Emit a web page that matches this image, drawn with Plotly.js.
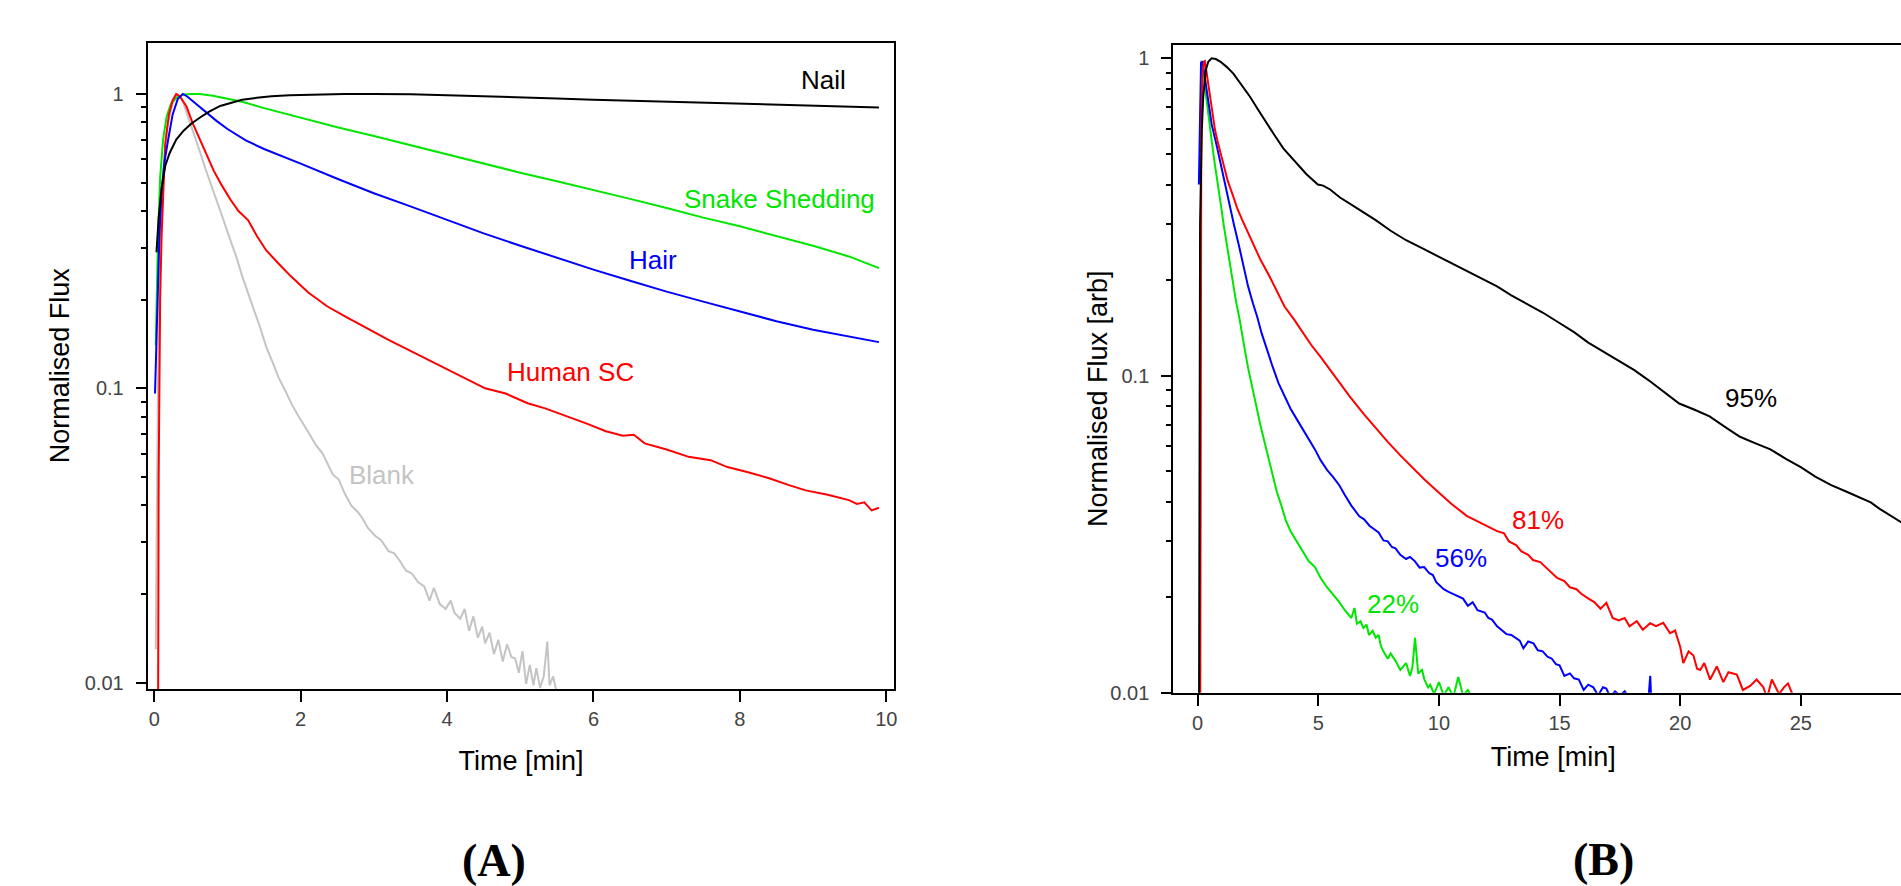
<!DOCTYPE html>
<html>
<head>
<meta charset="utf-8">
<script src="https://cdn.plot.ly/plotly-3.0.1.min.js"></script>
<style>
  html, body { margin: 0; padding: 0; background: #fff; }
  #wrap { width: 1901px; height: 886px; overflow: hidden; position: relative; }
  #chart { width: 1940px; height: 886px; }
</style>
</head>
<body>
<div id="wrap"><div id="chart"></div></div>
<script>
// ---------- Panel A data (Time [min], Normalised Flux) ----------
const nailT = [0.03, 0.06, 0.1, 0.15, 0.21, 0.3, 0.4, 0.5, 0.62, 0.75, 0.9, 1.05, 1.2, 1.4, 1.6, 1.85, 2.2, 2.6, 3.0, 3.5, 4.0, 4.5, 5.0, 5.5, 6.0, 6.5, 7.0, 7.5, 8.0, 8.5, 9.0, 9.5, 9.9];
const nailY = [0.29, 0.38, 0.48, 0.57, 0.63, 0.70, 0.75, 0.79, 0.83, 0.87, 0.91, 0.935, 0.955, 0.97, 0.982, 0.99, 0.996, 1.0, 1.0, 0.998, 0.99, 0.983, 0.975, 0.965, 0.955, 0.948, 0.94, 0.932, 0.925, 0.918, 0.912, 0.905, 0.90];

const snakeT = [0.02, 0.05, 0.08, 0.12, 0.17, 0.23, 0.3, 0.4, 0.5, 0.62, 0.8, 1.0, 1.2, 1.5, 2.0, 2.5, 3.0, 3.5, 4.0, 4.5, 5.0, 5.5, 6.0, 6.5, 7.0, 7.5, 8.0, 8.5, 9.0, 9.5, 9.9];
const snakeY = [0.14, 0.32, 0.52, 0.70, 0.84, 0.93, 0.97, 0.995, 1.0, 1.0, 0.985, 0.96, 0.94, 0.895, 0.83, 0.77, 0.72, 0.67, 0.62, 0.58, 0.54, 0.505, 0.47, 0.44, 0.41, 0.38, 0.355, 0.33, 0.305, 0.28, 0.256];

const hairT = [0.01, 0.04, 0.07, 0.1, 0.14, 0.19, 0.25, 0.32, 0.39, 0.45, 0.55, 0.65, 0.75, 0.85, 1.0, 1.25, 1.5, 1.75, 2.0, 2.5, 3.0, 3.5, 4.0, 4.5, 5.0, 5.5, 6.0, 6.5, 7.0, 7.5, 8.0, 8.5, 9.0, 9.5, 9.9];
const hairY = [0.096, 0.2, 0.33, 0.47, 0.59, 0.70, 0.85, 0.96, 1.0, 0.98, 0.935, 0.89, 0.848, 0.81, 0.76, 0.695, 0.65, 0.615, 0.58, 0.515, 0.46, 0.415, 0.374, 0.336, 0.305, 0.277, 0.253, 0.232, 0.213, 0.197, 0.182, 0.169, 0.158, 0.150, 0.1435];

const humanT = [0.05, 0.06, 0.08, 0.1, 0.15, 0.2, 0.25, 0.3, 0.35, 0.44, 0.52, 0.62, 0.7, 0.81, 0.92, 1.04, 1.15, 1.28, 1.4, 1.53, 1.7, 1.86, 2.1, 2.36, 2.6, 2.86, 3.2, 3.5, 3.69, 4.0, 4.3, 4.52, 4.8, 5.1, 5.34, 5.6, 5.9, 6.17, 6.4, 6.55, 6.7, 7.0, 7.3, 7.6, 7.83, 8.1, 8.4, 8.66, 8.9, 9.2, 9.49, 9.6, 9.7, 9.8, 9.9];
const humanY = [0.005, 0.05, 0.2, 0.33, 0.68, 0.85, 0.95, 1.0, 0.98, 0.906, 0.8, 0.70, 0.63, 0.55, 0.49, 0.438, 0.40, 0.373, 0.33, 0.294, 0.265, 0.241, 0.212, 0.19, 0.176, 0.162, 0.146, 0.134, 0.127, 0.116, 0.107, 0.1, 0.096, 0.089, 0.0855, 0.081, 0.076, 0.0715, 0.069, 0.0695, 0.065, 0.062, 0.0585, 0.057, 0.054, 0.052, 0.0495, 0.047, 0.045, 0.0435, 0.0417, 0.0405, 0.041, 0.0385, 0.0393];

const blankT = [0.02, 0.05, 0.08, 0.12, 0.18, 0.25, 0.32, 0.38, 0.45, 0.54, 0.62, 0.70, 0.78, 0.87, 0.95, 1.04, 1.12, 1.2, 1.28, 1.37, 1.45, 1.53, 1.62, 1.70, 1.8, 1.88, 1.95, 2.05, 2.12, 2.2, 2.3, 2.36, 2.44, 2.52, 2.6, 2.69, 2.78, 2.85, 2.92, 3.02, 3.1, 3.2, 3.28, 3.36, 3.44, 3.52, 3.6, 3.69, 3.76, 3.82, 3.9, 3.98, 4.05, 4.1, 4.18, 4.24, 4.3, 4.36, 4.42, 4.48, 4.52, 4.58, 4.64, 4.7, 4.76, 4.82, 4.88, 4.93, 4.98, 5.03, 5.08, 5.13, 5.18, 5.22, 5.27, 5.32, 5.37, 5.4, 5.45, 5.5];
const blankY = [0.013, 0.1, 0.3, 0.55, 0.78, 0.93, 0.99, 0.96, 0.85, 0.735, 0.64, 0.556, 0.49, 0.421, 0.37, 0.318, 0.28, 0.241, 0.21, 0.182, 0.16, 0.138, 0.122, 0.1085, 0.097, 0.088, 0.082, 0.075, 0.07, 0.0646, 0.06, 0.056, 0.0509, 0.049, 0.044, 0.04, 0.038, 0.036, 0.0335, 0.0315, 0.0305, 0.028, 0.0275, 0.0258, 0.024, 0.0235, 0.022, 0.0212, 0.019, 0.021, 0.0185, 0.0178, 0.019, 0.0173, 0.0165, 0.0178, 0.015, 0.0168, 0.0142, 0.0155, 0.0136, 0.0148, 0.0125, 0.014, 0.0118, 0.0135, 0.0122, 0.0121, 0.0108, 0.0128, 0.0099, 0.0115, 0.0098, 0.0112, 0.0096, 0.0105, 0.0138, 0.0098, 0.0105, 0.0092];

// ---------- Panel B data ----------
const p95T = [0.05, 0.1, 0.17, 0.23, 0.34, 0.44, 0.58, 0.75, 0.95, 1.2, 1.48, 1.8, 2.17, 2.5, 2.86, 3.2, 3.55, 3.9, 4.1, 4.5, 4.98, 5.2, 5.49, 5.9, 6.37, 6.9, 7.38, 8.0, 8.64, 9.3, 9.89, 10.5, 11.15, 11.8, 12.41, 13.0, 13.67, 14.3, 14.93, 15.6, 16.19, 16.8, 17.45, 18.1, 18.71, 19.3, 19.96, 20.6, 21.22, 21.9, 22.48, 23.1, 23.74, 24.4, 25.0, 25.6, 26.26, 26.9, 27.49, 27.9, 28.27, 28.7, 29.03, 29.5, 30.0, 30.5];
const p95Y = [0.005, 0.3, 0.59, 0.757, 0.92, 0.976, 1.0, 0.995, 0.975, 0.94, 0.895, 0.83, 0.757, 0.69, 0.624, 0.57, 0.52, 0.485, 0.465, 0.432, 0.40, 0.397, 0.386, 0.364, 0.346, 0.326, 0.309, 0.286, 0.267, 0.252, 0.239, 0.226, 0.2136, 0.202, 0.191, 0.179, 0.168, 0.158, 0.1475, 0.137, 0.127, 0.119, 0.1117, 0.104, 0.0964, 0.089, 0.0816, 0.078, 0.0743, 0.0685, 0.0641, 0.0612, 0.0585, 0.0545, 0.0514, 0.048, 0.0451, 0.043, 0.0411, 0.0398, 0.038, 0.0362, 0.0348, 0.0332, 0.0316, 0.0302];

const p81T = [0.1, 0.12, 0.15, 0.2, 0.26, 0.3, 0.4, 0.51, 0.62, 0.72, 0.82, 0.92, 1.08, 1.25, 1.46, 1.65, 1.84, 2.1, 2.34, 2.6, 2.97, 3.3, 3.6, 4.0, 4.36, 4.7, 5.11, 5.5, 5.87, 6.3, 6.87, 7.4, 7.88, 8.4, 8.89, 9.4, 9.89, 10.5, 11.15, 11.8, 12.41, 12.7, 12.9, 13.2, 13.42, 13.7, 13.9, 14.2, 14.43, 14.7, 14.9, 15.2, 15.43, 15.7, 15.9, 16.2, 16.44, 16.7, 16.94, 17.2, 17.45, 17.7, 17.9, 18.2, 18.45, 18.76, 19.0, 19.3, 19.58, 19.79, 20.0, 20.13, 20.35, 20.55, 20.7, 20.83, 21.0, 21.24, 21.52, 21.79, 22.0, 22.35, 22.6, 22.9, 23.17, 23.45, 23.6, 23.8, 24.1, 24.3, 24.47, 24.7, 24.9, 25.0];
const p81Y = [0.005, 0.3, 0.6, 0.88, 0.976, 0.98, 0.87, 0.757, 0.67, 0.594, 0.55, 0.514, 0.46, 0.41, 0.37, 0.335, 0.31, 0.28, 0.255, 0.232, 0.206, 0.183, 0.165, 0.15, 0.137, 0.125, 0.114, 0.104, 0.0946, 0.086, 0.0758, 0.068, 0.0618, 0.056, 0.0514, 0.047, 0.0435, 0.0395, 0.0361, 0.034, 0.0323, 0.0318, 0.030, 0.0292, 0.0279, 0.0272, 0.0262, 0.0258, 0.0249, 0.0238, 0.023, 0.0225, 0.0215, 0.0212, 0.0205, 0.0198, 0.0193, 0.0184, 0.0192, 0.0172, 0.0169, 0.0172, 0.0162, 0.0168, 0.0158, 0.01655, 0.0162, 0.0166, 0.0154, 0.0157, 0.01396, 0.0124, 0.0135, 0.0131, 0.0119, 0.0118, 0.0124, 0.011, 0.0121, 0.0108, 0.0116, 0.0114, 0.0102, 0.0105, 0.011, 0.0104, 0.0096, 0.011, 0.0099, 0.0104, 0.0107, 0.0097, 0.0099, 0.0092];

const p56T = [0.05, 0.1, 0.14, 0.2, 0.3, 0.4, 0.58, 0.79, 0.96, 1.15, 1.33, 1.5, 1.71, 1.9, 2.09, 2.3, 2.47, 2.65, 2.84, 3.1, 3.35, 3.6, 3.85, 4.1, 4.36, 4.6, 4.86, 5.1, 5.36, 5.6, 5.87, 6.1, 6.37, 6.7, 6.9, 7.12, 7.3, 7.5, 7.7, 7.88, 8.05, 8.2, 8.4, 8.64, 8.8, 9.0, 9.2, 9.39, 9.6, 9.75, 9.89, 10.05, 10.2, 10.4, 10.65, 10.8, 11.0, 11.2, 11.4, 11.6, 11.9, 12.05, 12.2, 12.41, 12.6, 12.8, 13.0, 13.17, 13.35, 13.5, 13.7, 13.92, 14.1, 14.3, 14.5, 14.68, 14.85, 15.0, 15.2, 15.43, 15.6, 15.8, 16.0, 16.19, 16.4, 16.6, 16.8, 16.94, 17.1, 17.3, 17.5, 17.7, 17.9, 18.0, 18.7, 18.76, 18.8];
const p56Y = [0.4, 0.75, 0.97, 0.98, 0.87, 0.76, 0.62, 0.53, 0.46, 0.40, 0.346, 0.30, 0.257, 0.22, 0.191, 0.168, 0.153, 0.136, 0.1226, 0.107, 0.0946, 0.086, 0.0786, 0.073, 0.0678, 0.063, 0.0585, 0.054, 0.0504, 0.048, 0.0451, 0.042, 0.0389, 0.036, 0.0352, 0.0336, 0.0328, 0.032, 0.0302, 0.030, 0.0288, 0.0285, 0.0272, 0.0264, 0.0268, 0.026, 0.0248, 0.0249, 0.0238, 0.0235, 0.0223, 0.0218, 0.0212, 0.0208, 0.0204, 0.0202, 0.0198, 0.0188, 0.0193, 0.0182, 0.0179, 0.0172, 0.017, 0.0162, 0.0158, 0.0153, 0.0152, 0.0149, 0.0146, 0.0138, 0.0145, 0.0143, 0.0136, 0.0135, 0.013, 0.0128, 0.0123, 0.0122, 0.0113, 0.0115, 0.0111, 0.011, 0.0102, 0.0106, 0.0104, 0.0098, 0.0104, 0.0103, 0.0097, 0.0101, 0.0098, 0.0101, 0.0096, 0.0099, 0.0099, 0.0113, 0.0095];

const p22T = [0.1, 0.12, 0.15, 0.18, 0.25, 0.33, 0.45, 0.58, 0.7, 0.83, 0.95, 1.08, 1.2, 1.33, 1.46, 1.59, 1.72, 1.84, 1.96, 2.09, 2.22, 2.34, 2.47, 2.59, 2.72, 2.84, 2.97, 3.1, 3.28, 3.47, 3.65, 3.85, 4.1, 4.36, 4.6, 4.86, 5.1, 5.36, 5.6, 5.87, 6.1, 6.37, 6.5, 6.6, 6.75, 6.87, 7.0, 7.1, 7.25, 7.38, 7.5, 7.6, 7.75, 7.88, 8.0, 8.2, 8.4, 8.64, 8.8, 8.9, 9.01, 9.14, 9.3, 9.4, 9.55, 9.64, 9.8, 10.0, 10.2, 10.4, 10.6, 10.8, 11.0, 11.2, 11.4, 11.6, 11.8, 11.9];
const p22Y = [0.5, 0.7, 0.9, 0.98, 0.9, 0.78, 0.65, 0.55, 0.47, 0.41, 0.35, 0.298, 0.26, 0.222, 0.195, 0.171, 0.153, 0.137, 0.12, 0.1057, 0.095, 0.0847, 0.077, 0.0703, 0.064, 0.0585, 0.053, 0.0486, 0.043, 0.0389, 0.035, 0.0323, 0.030, 0.0279, 0.026, 0.0249, 0.023, 0.0215, 0.0205, 0.0193, 0.0182, 0.0172, 0.0185, 0.0165, 0.0168, 0.016, 0.0164, 0.0152, 0.0157, 0.0149, 0.0152, 0.014, 0.0133, 0.0128, 0.0133, 0.0126, 0.0118, 0.0124, 0.0113, 0.012, 0.0149, 0.0115, 0.0118, 0.011, 0.0104, 0.0106, 0.0099, 0.0108, 0.0098, 0.0104, 0.0097, 0.0112, 0.0098, 0.0102, 0.0096, 0.0099, 0.0095, 0.0098];

// ---------- Tick labels ----------
const yTickVals = [0.01, 0.1, 1];
const yTickText = ['0.01', '0.1', '1'];
const yMinorVals = [0.02, 0.03, 0.04, 0.05, 0.06, 0.07, 0.08, 0.09, 0.2, 0.3, 0.4, 0.5, 0.6, 0.7, 0.8, 0.9];
const xTicksA = [0, 2, 4, 6, 8, 10];
const xTicksB = [0, 5, 10, 15, 20, 25];

const FONT = '"Liberation Sans", Arial, sans-serif';
const GREEN = '#00e600';
const tickFont = {family: FONT, size: 20, color: '#444'};
const titleFont = {family: FONT, size: 27, color: '#000'};

function line(x, y, color, xa, ya, name) {
  return {x: x, y: y, type: 'scatter', mode: 'lines', name: name,
          xaxis: xa, yaxis: ya, line: {color: color, width: 2}, hoverinfo: 'skip'};
}

const traces = [
  line(blankT, blankY, '#c4c4c4', 'x', 'y', 'Blank'),
  line(snakeT, snakeY, GREEN, 'x', 'y', 'Snake Shedding'),
  line(humanT, humanY, '#ff0000', 'x', 'y', 'Human SC'),
  line(hairT, hairY, '#0000ff', 'x', 'y', 'Hair'),
  line(nailT, nailY, '#000000', 'x', 'y', 'Nail'),
  line(p22T, p22Y, GREEN, 'x2', 'y2', '22%'),
  line(p56T, p56Y, '#0000ff', 'x2', 'y2', '56%'),
  line(p81T, p81Y, '#ff0000', 'x2', 'y2', '81%'),
  line(p95T, p95Y, '#000000', 'x2', 'y2', '95%')
];

const W = 1940, H = 886;
const xAxisCommon = {
  showline: true, linecolor: '#000', linewidth: 2, mirror: true,
  ticks: 'outside', ticklen: 11, tickwidth: 2, tickcolor: '#000',
  showgrid: false, zeroline: false, tickfont: tickFont, tickmode: 'array'
};
const yAxisCommon = {
  type: 'log', showline: true, linecolor: '#000', linewidth: 2, mirror: true,
  ticks: 'outside', ticklen: 10, tickwidth: 2, tickcolor: '#000',
  tickmode: 'array', tickvals: yTickVals, ticktext: yTickText,
  minor: {ticks: 'outside', ticklen: 5, tickwidth: 2, tickcolor: '#000', tickmode: 'array', tickvals: yMinorVals, showgrid: false},
  showgrid: false, zeroline: false, tickfont: tickFont, ticklabelstandoff: 8
};

const layout = {
  width: W, height: H,
  margin: {l: 0, r: 0, t: 0, b: 0},
  paper_bgcolor: '#fff', plot_bgcolor: '#fff',
  showlegend: false,
  xaxis: Object.assign({}, xAxisCommon, {
    domain: [147.7 / W, 894.3 / W], range: [-0.09, 10.11], anchor: 'y',
    tickvals: xTicksA,
    title: {text: 'Time [min]', font: titleFont, standoff: 22}
  }),
  yaxis: Object.assign({}, yAxisCommon, {
    domain: [(H - 689) / H, (H - 42.7) / H], range: [-2.0214, 0.174], anchor: 'x',
    title: {text: 'Normalised Flux', font: titleFont, standoff: 7}
  }),
  xaxis2: Object.assign({}, xAxisCommon, {
    domain: [1173.3 / W, 1933 / W], range: [-1.01, 30.48], anchor: 'y2',
    tickvals: xTicksB,
    title: {text: 'Time [min]', font: titleFont, standoff: 14}
  }),
  yaxis2: Object.assign({}, yAxisCommon, {
    domain: [(H - 692.7) / H, (H - 44.7) / H], range: [-2, 0.043], anchor: 'x2'
  }),
  annotations: [
    // panel A curve labels (y in log10 units)
    {xref: 'x', yref: 'y', x: 9.14, y: 0.0476, text: 'Nail', showarrow: false, font: {family: FONT, size: 26, color: '#000'}},
    {xref: 'x', yref: 'y', x: 8.54, y: -0.356, text: 'Snake Shedding', showarrow: false, font: {family: FONT, size: 26, color: GREEN}},
    {xref: 'x', yref: 'y', x: 6.82, y: -0.564, text: 'Hair', showarrow: false, font: {family: FONT, size: 26, color: '#0000ff'}},
    {xref: 'x', yref: 'y', x: 5.68, y: -0.9445, text: 'Human SC', showarrow: false, font: {family: FONT, size: 26, color: '#ff0000'}},
    {xref: 'x', yref: 'y', x: 3.11, y: -1.294, text: 'Blank', showarrow: false, font: {family: FONT, size: 26, color: '#c4c4c4'}},
    // panel B curve labels
    {xref: 'x2', yref: 'y2', x: 22.92, y: -1.071, text: '95%', showarrow: false, font: {family: FONT, size: 26, color: '#000'}},
    {xref: 'x2', yref: 'y2', x: 14.12, y: -1.457, text: '81%', showarrow: false, font: {family: FONT, size: 26, color: '#ff0000'}},
    {xref: 'x2', yref: 'y2', x: 10.93, y: -1.574, text: '56%', showarrow: false, font: {family: FONT, size: 26, color: '#0000ff'}},
    {xref: 'x2', yref: 'y2', x: 8.08, y: -1.719, text: '22%', showarrow: false, font: {family: FONT, size: 26, color: GREEN}},
    // panel B y-axis title
    {xref: 'paper', yref: 'paper', x: 1098 / W, y: (H - 399) / H, xanchor: 'center', yanchor: 'middle', text: 'Normalised Flux [arb]', textangle: -90, showarrow: false, font: titleFont},
    // panel captions
    {xref: 'paper', yref: 'paper', x: 494 / W, y: (H - 860) / H, xanchor: 'center', yanchor: 'middle', text: '<b>(A)</b>', showarrow: false, font: {family: '"Liberation Serif", "Times New Roman", serif', size: 46, color: '#000'}},
    {xref: 'paper', yref: 'paper', x: 1603 / W, y: (H - 859) / H, xanchor: 'center', yanchor: 'middle', text: '<b>(B)</b>', showarrow: false, font: {family: '"Liberation Serif", "Times New Roman", serif', size: 46, color: '#000'}}
  ]
};

Plotly.newPlot('chart', traces, layout, {displayModeBar: false, staticPlot: true});
</script>
</body>
</html>
